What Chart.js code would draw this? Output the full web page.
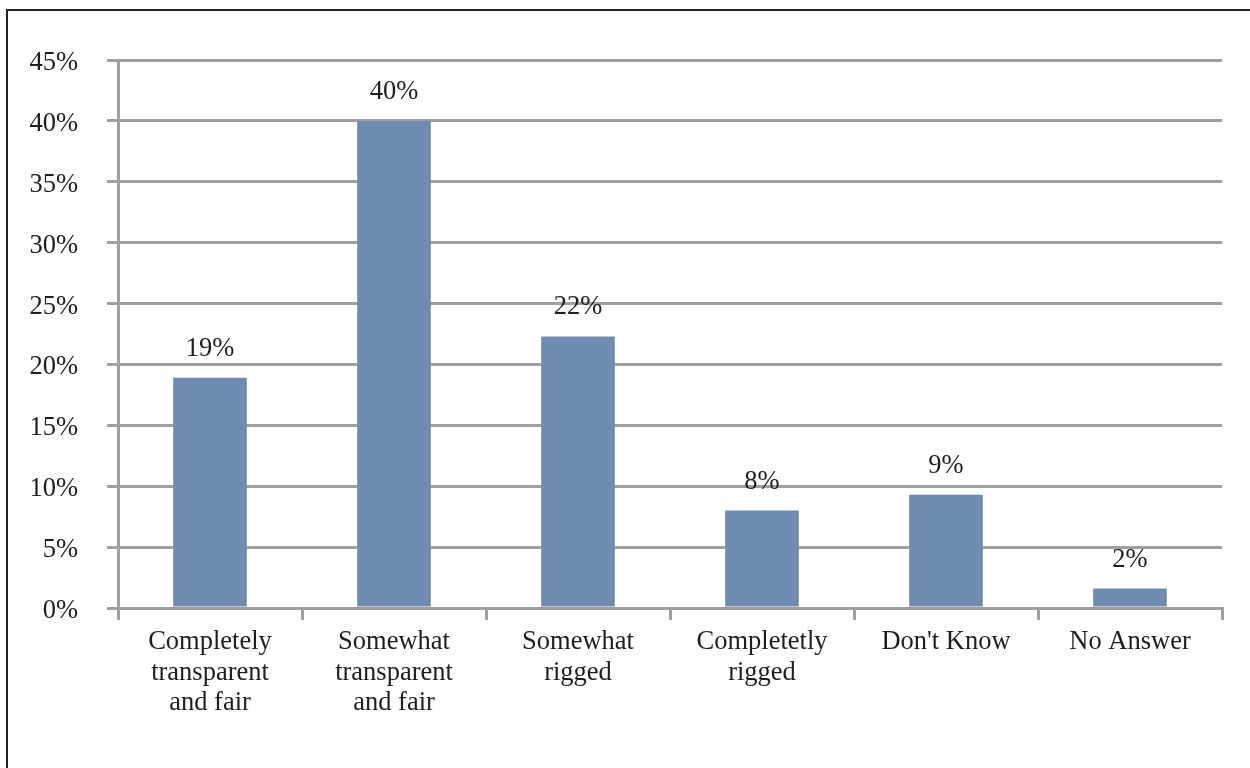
<!DOCTYPE html>
<html>
<head>
<meta charset="utf-8">
<script src="https://cdn.jsdelivr.net/npm/chart.js@4"></script>
<style>
  html, body { margin: 0; padding: 0; background: #fff; }
  #wrap { width: 1250px; height: 768px; position: relative; }
</style>
</head>
<body>
<div id="wrap"><canvas id="grafico" width="1250" height="768"></canvas></div>
<script>
const categories = [
  ["Completely", "transparent", "and fair"],
  ["Somewhat", "transparent", "and fair"],
  ["Somewhat", "rigged"],
  ["Completetly", "rigged"],
  "Don't Know",
  "No Answer"
];
const values = [18.9, 40, 22.3, 8, 9.3, 1.6];
const valueLabels = ["19%", "40%", "22%", "8%", "9%", "2%"];
const yTicks = [0, 5, 10, 15, 20, 25, 30, 35, 40, 45];

const gridGray = "#a0a0a4";
const textColor = "#1e1e1e";
const font = { family: "'Liberation Serif', 'Times New Roman', serif", size: 26.5, lineHeight: 1.15 };

// frame round the picture
const framePlugin = {
  id: "frame",
  beforeDraw(chart) {
    const c = chart.ctx;
    c.save();
    c.fillStyle = "#fff";
    c.fillRect(0, 0, chart.width, chart.height);
    c.strokeStyle = "#222";
    c.lineWidth = 2;
    c.strokeRect(7, 10, chart.width + 20, chart.height + 20);
    c.restore();
  }
};

// value labels above each bar
const labelPlugin = {
  id: "barLabels",
  afterDatasetsDraw(chart) {
    const c = chart.ctx;
    const meta = chart.getDatasetMeta(0);
    c.save();
    c.font = font.size + "px " + font.family;
    c.fillStyle = textColor;
    c.textAlign = "center";
    c.textBaseline = "alphabetic";
    meta.data.forEach((bar, i) => {
      c.fillText(valueLabels[i], bar.x, bar.y - 22);
    });
    c.restore();
  }
};

new Chart(document.getElementById("grafico"), {
  type: "bar",
  data: {
    labels: categories,
    datasets: [{
      data: values,
      backgroundColor: "#6f8baf",
      barPercentage: 0.4,
      categoryPercentage: 1
    }]
  },
  options: {
    responsive: false,
    animation: false,
    layout: { padding: { left: 0, right: 28, top: 60, bottom: 10 } },
    plugins: {
      legend: { display: false },
      tooltip: { enabled: false }
    },
    scales: {
      x: {
        offset: true,
        grid: {
          offset: true,
          drawOnChartArea: false,
          drawTicks: true,
          tickLength: 12,
          color: gridGray,
          lineWidth: 3
        },
        border: { display: true, color: gridGray, width: 3 },
        ticks: {
          font: font,
          color: textColor,
          padding: 7,
          maxRotation: 0,
          autoSkip: false
        },
        afterFit(scale) { scale.height = 150; }
      },
      y: {
        min: 0,
        max: 45,
        afterBuildTicks(scale) {
          scale.ticks = yTicks.map(v => ({ value: v }));
        },
        grid: {
          color: gridGray,
          lineWidth: 3,
          drawTicks: true,
          tickLength: 11
        },
        border: { display: true, color: gridGray, width: 3 },
        ticks: {
          font: font,
          color: textColor,
          padding: 29,
          labelOffset: 3,
          callback: v => v + "%"
        },
        afterFit(scale) { scale.width = 118; }
      }
    }
  },
  plugins: [framePlugin, labelPlugin]
});
</script>
</body>
</html>
